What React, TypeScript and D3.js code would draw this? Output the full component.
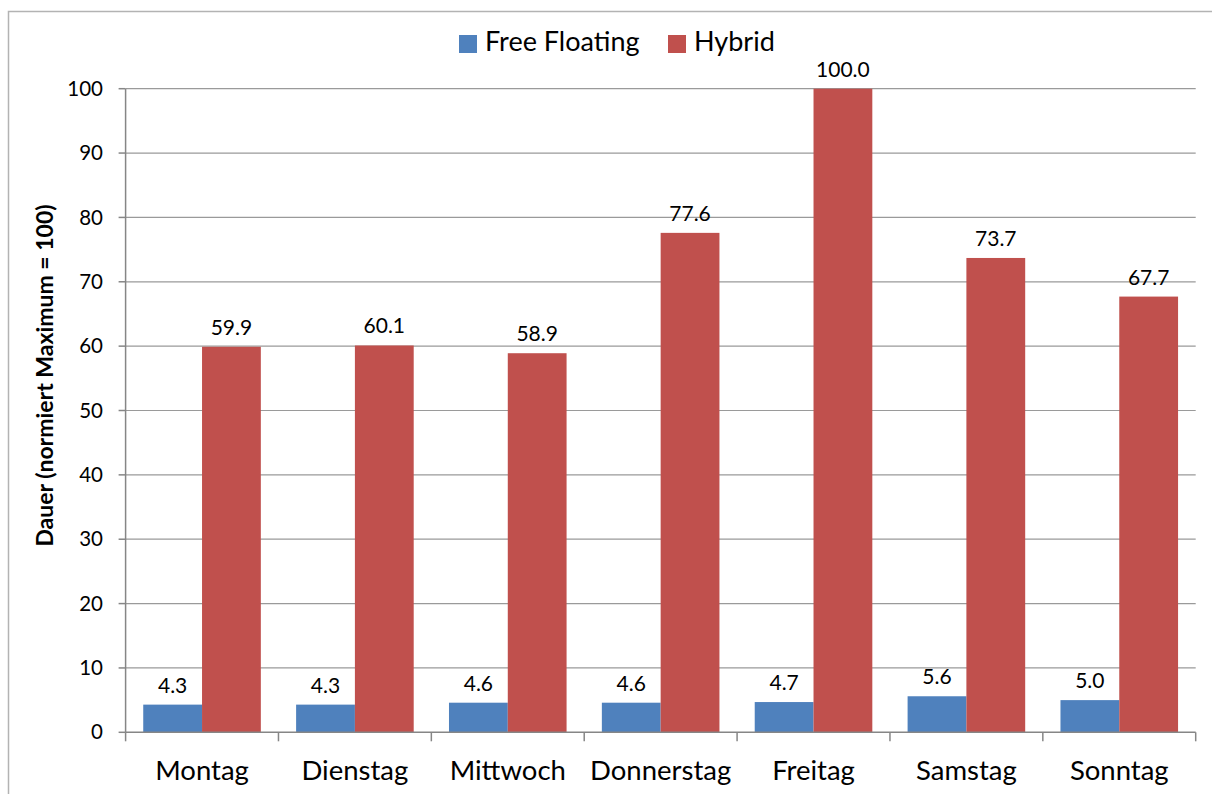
import React from "react";
import * as d3 from "d3";

const days = ["Montag", "Dienstag", "Mittwoch", "Donnerstag", "Freitag", "Samstag", "Sonntag"];
const seriesNames = ["Free Floating", "Hybrid"];
const freeFloating = [4.3, 4.3, 4.6, 4.6, 4.7, 5.6, 5.0];
const hybrid = [59.9, 60.1, 58.9, 77.6, 100.0, 73.7, 67.7];
const yTicks = [0, 10, 20, 30, 40, 50, 60, 70, 80, 90, 100];
const seriesColors = ["#4f81bd", "#c0504d"];

const W = 1212;
const H = 794;
const plot = { left: 125.6, right: 1195.7, top: 88.7, bottom: 732.3 };
const FONT = "Lato, Carlito, Calibri, sans-serif";

export default function App() {
  const x = d3.scaleBand<string>().domain(days).range([plot.left, plot.right]).padding(0);
  const inner = d3
    .scaleBand<string>()
    .domain(seriesNames)
    .range([0, x.bandwidth()])
    .paddingInner(0)
    .paddingOuter(0.3);
  const y = d3.scaleLinear().domain([0, 100]).range([plot.bottom, plot.top]);
  const values = [freeFloating, hybrid];

  const boundaries = [...days.map((d) => x(d) as number), plot.right];

  return (
    <div style={{ position: "absolute", left: 0, top: 0 }}>
      <svg width={W} height={H} style={{ display: "block", background: "#fff" }}>
        <rect x={8.5} y={11.5} width={W + 20} height={H + 20} fill="#fff" stroke="#b3b3b3" strokeWidth={1.5} />

        {/* gridlines */}
        {yTicks.slice(1).map((t) => (
          <line key={`g${t}`} x1={plot.left} x2={plot.right} y1={y(t)} y2={y(t)} stroke="#9a9a9a" strokeWidth={1.2} />
        ))}

        {/* bars */}
        {days.map((d, i) =>
          seriesNames.map((s, k) => {
            const v = values[k][i];
            const bx = (x(d) as number) + (inner(s) as number);
            return (
              <rect
                key={`${d}-${s}`}
                x={bx}
                y={y(v)}
                width={inner.bandwidth()}
                height={plot.bottom - y(v)}
                fill={seriesColors[k]}
              />
            );
          })
        )}

        {/* data labels */}
        {days.map((d, i) =>
          seriesNames.map((s, k) => {
            const v = values[k][i];
            const cx = (x(d) as number) + (inner(s) as number) + inner.bandwidth() / 2;
            return (
              <text
                key={`l${d}-${s}`}
                x={cx}
                y={y(v) - 12}
                textAnchor="middle"
                fontFamily={FONT}
                fontSize={21}
                fill="#000"
              >
                {v.toFixed(1)}
              </text>
            );
          })
        )}

        {/* y axis */}
        <line x1={plot.left} x2={plot.left} y1={plot.top} y2={plot.bottom} stroke="#868686" strokeWidth={1.5} />
        {yTicks.map((t) => (
          <g key={`t${t}`}>
            <line x1={plot.left - 7} x2={plot.left} y1={y(t)} y2={y(t)} stroke="#868686" strokeWidth={1.5} />
            <text
              x={103}
              y={y(t)}
              dy="0.35em"
              textAnchor="end"
              fontFamily={FONT}
              fontSize={20.5}
              fill="#000"
            >
              {t}
            </text>
          </g>
        ))}

        {/* x axis */}
        <line x1={plot.left} x2={plot.right} y1={plot.bottom} y2={plot.bottom} stroke="#868686" strokeWidth={1.5} />
        {boundaries.map((b, i) => (
          <line key={`b${i}`} x1={b} x2={b} y1={plot.bottom} y2={plot.bottom + 9} stroke="#868686" strokeWidth={1.5} />
        ))}
        {days.map((d) => (
          <text
            key={`c${d}`}
            x={(x(d) as number) + x.bandwidth() / 2}
            y={780}
            textAnchor="middle"
            fontFamily={FONT}
            fontSize={27.5}
            fill="#000"
          >
            {d}
          </text>
        ))}

        {/* y axis title */}
        <text
          transform="translate(53,375.5) rotate(-90)"
          textAnchor="middle"
          fontFamily={FONT}
          fontWeight="bold"
          fontSize={23}
          fill="#000"
        >
          Dauer (normiert Maximum = 100)
        </text>

        {/* legend */}
        <rect x={459} y={35} width={18} height={18} fill={seriesColors[0]} />
        <text x={485} y={50.5} fontFamily={FONT} fontSize={27} fill="#000">
          {seriesNames[0]}
        </text>
        <rect x={668} y={35} width={18} height={18} fill={seriesColors[1]} />
        <text x={694} y={50.5} fontFamily={FONT} fontSize={27} fill="#000">
          {seriesNames[1]}
        </text>
      </svg>
    </div>
  );
}
